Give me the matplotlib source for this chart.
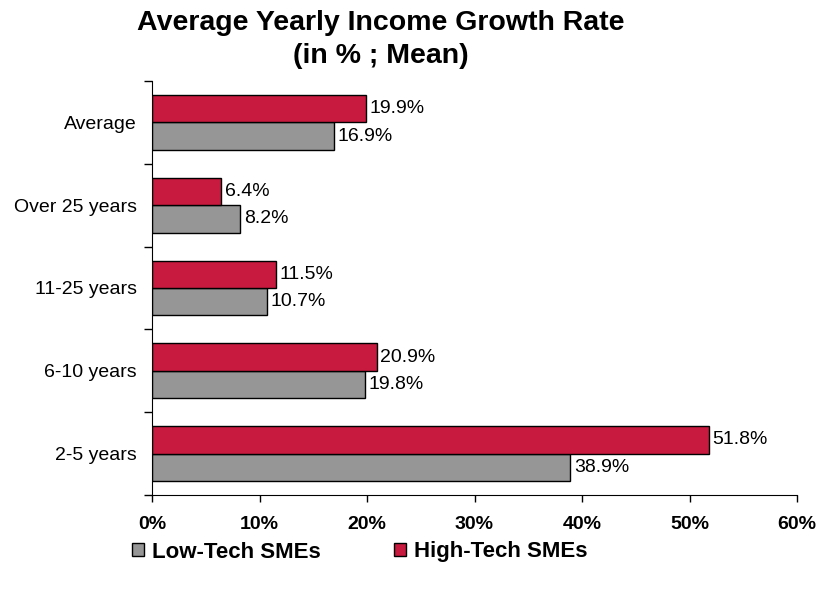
import matplotlib
matplotlib.use("Agg")
import matplotlib.pyplot as plt
import numpy as np
from matplotlib.ticker import FixedLocator, FuncFormatter

plt.rcParams['font.family'] = ['Liberation Sans', 'DejaVu Sans']

categories = ["2-5 years", "6-10 years", "11-25 years", "Over 25 years", "Average"]
low_tech = [38.9, 19.8, 10.7, 8.2, 16.9]
high_tech = [51.8, 20.9, 11.5, 6.4, 19.9]
x_ticks = [0, 10, 20, 30, 40, 50, 60]

red = "#C8193F"
grey = "#969696"

fig = plt.figure(figsize=(8.19, 5.9), dpi=100)
ax = fig.add_axes([152 / 819, 1 - 495 / 590, (797 - 152) / 819, (495 - 81) / 590])

y = np.arange(len(categories))
h = 0.33
b_low = ax.barh(y - h / 2, low_tech, height=h, color=grey, edgecolor="black", linewidth=1, label="Low-Tech SMEs")
b_high = ax.barh(y + h / 2, high_tech, height=h, color=red, edgecolor="black", linewidth=1, label="High-Tech SMEs")

for bars, vals in ((b_low, low_tech), (b_high, high_tech)):
    for bar, v in zip(bars, vals):
        ax.text(v + 0.35, bar.get_y() + bar.get_height() / 2, f"{v:.1f}%",
                va="center", ha="left", fontsize=14)

ax.set_xlim(0, 60)
ax.set_ylim(-0.5, len(categories) - 0.5)
ax.xaxis.set_major_locator(FixedLocator(x_ticks))
ax.xaxis.set_major_formatter(FuncFormatter(lambda v, p: f"{v:.0f}%"))
ax.set_yticks(y)
ax.set_yticklabels(categories, fontsize=14)
ax.set_yticks(np.arange(-0.5, len(categories), 1), minor=True)
ax.tick_params(axis="y", which="major", length=0, pad=11)
ax.tick_params(axis="y", which="minor", length=6, width=1, direction="out")
ax.tick_params(axis="x", length=5, width=1, direction="out", pad=10)
for lab in ax.get_xticklabels():
    lab.set_fontweight("bold")
    lab.set_fontsize(14)

ax.spines["top"].set_visible(False)
ax.spines["right"].set_visible(False)

fig.text(381 / 819, 1 - 30 / 590, "Average Yearly Income Growth Rate", fontsize=20.5,
         fontweight="bold", ha="center", va="baseline")
fig.text(381 / 819, 1 - 63 / 590, "(in % ; Mean)", fontsize=20.5,
         fontweight="bold", ha="center", va="baseline")

handles = [b_low, b_high]
fig.legend(handles, ["Low-Tech SMEs", "High-Tech SMEs"], loc="center",
           bbox_to_anchor=(360 / 819, 1 - 552 / 590), ncol=2, frameon=False,
           handlelength=0.54, handleheight=0.54, handletextpad=0.36, columnspacing=3.3,
           prop={"weight": "bold", "size": 16})

fig.savefig("out.png", dpi=100)
